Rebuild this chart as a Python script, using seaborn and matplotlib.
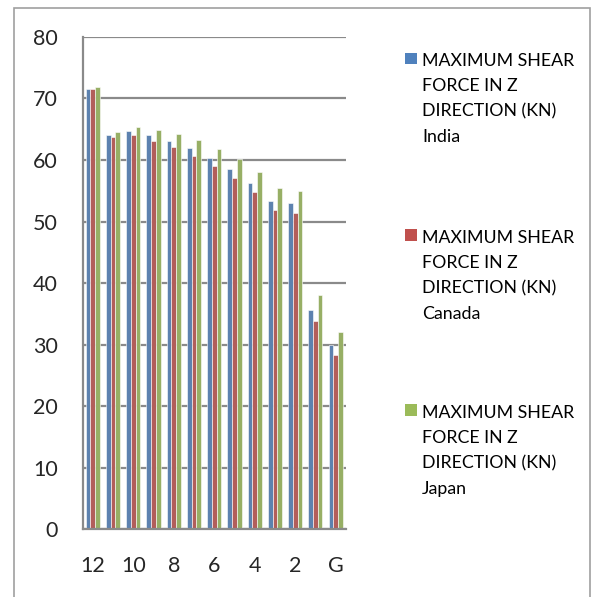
import numpy as np
import pandas as pd
import matplotlib
matplotlib.use('Agg')
import matplotlib.pyplot as plt
from matplotlib.patches import Rectangle
import seaborn as sns

# datos
floors = ['12', '11', '10', '9', '8', '7', '6', '5', '4', '3', '2', '1', 'G']
india = [71.6, 64.1, 64.7, 64.0, 63.1, 61.9, 60.3, 58.5, 56.3, 53.4, 53.0, 35.7, 30.0]
canada = [71.5, 63.7, 64.0, 63.0, 62.1, 60.6, 59.0, 57.1, 54.8, 51.9, 51.4, 33.9, 28.4]
japan = [71.8, 64.6, 65.4, 64.9, 64.2, 63.2, 61.7, 60.1, 58.1, 55.4, 55.0, 38.1, 32.0]
countries = ['India', 'Canada', 'Japan']
colors = ['#4F81BD', '#C0504D', '#9BBB59']
series_label = 'MAXIMUM SHEAR\nFORCE IN Z\nDIRECTION (KN)\n'

df = pd.DataFrame({
    'Floor': floors * 3,
    'Force': india + canada + japan,
    'Country': [c for c in countries for _ in floors],
})

sns.set_style('white')
plt.rcParams['font.family'] = ['Lato', 'DejaVu Sans']

fig = plt.figure(figsize=(5.93, 5.97), dpi=100)
ax = fig.add_axes([0.1393, 0.1131, 0.4438, 0.8253])

sns.barplot(data=df, x='Floor', y='Force', hue='Country', order=floors,
            hue_order=countries, palette=colors, width=0.7, gap=0,
            edgecolor='white', linewidth=0.4, legend=False, ax=ax)

grid_col = '#8a8a8a'
ax.set_ylim(0, 80)
ax.set_yticks(range(0, 81, 10))
ax.set_xlim(-0.5, len(floors) - 0.5)
ax.yaxis.grid(True, color=grid_col, linewidth=1.6)
ax.set_axisbelow(True)
ax.set_xlabel('')
ax.set_ylabel('')

# marcas entre categorias, etiquetas cada dos pisos
ax.set_xticks(np.arange(-0.5, len(floors), 1))
ax.set_xticklabels([])
ax.set_xticks(range(len(floors)), minor=True)
ax.set_xticklabels([f if i % 2 == 0 else '' for i, f in enumerate(floors)], minor=True)
ax.tick_params(axis='x', which='major', direction='out', length=5.5, width=1.5, color=grid_col)
ax.tick_params(axis='x', which='minor', length=0, pad=19, labelsize=15.5)
ax.tick_params(axis='y', direction='out', length=5.8, width=1.5, color=grid_col, pad=12, labelsize=15.5)

for s in ['top', 'right']:
    ax.spines[s].set_visible(False)
for s in ['left', 'bottom']:
    ax.spines[s].set_color(grid_col)
    ax.spines[s].set_linewidth(1.6)

# leyenda manual (marcador alineado con la primera linea)
W, H = 593, 597
leg_y = [58.5, 235, 410]
for c, col, y in zip(countries, colors, leg_y):
    fig.patches.append(Rectangle((405 / W, 1 - (y + 5.5) / H), 11.5 / W, 11.5 / H,
                                 transform=fig.transFigure, facecolor=col,
                                 edgecolor='none'))
    fig.text(422 / W, 1 - (y - 5.5) / H, series_label + c, fontsize=12.8,
             va='top', ha='left', linespacing=1.72, color='black')

# borde exterior del grafico
fig.patches.append(Rectangle((13.5 / W, -0.01), (590 - 13.5) / W, 1 - 8 / H + 0.01,
                             transform=fig.transFigure, facecolor='none',
                             edgecolor='#a0a0a0', linewidth=1.2))

fig.savefig('out.png', dpi=100)
